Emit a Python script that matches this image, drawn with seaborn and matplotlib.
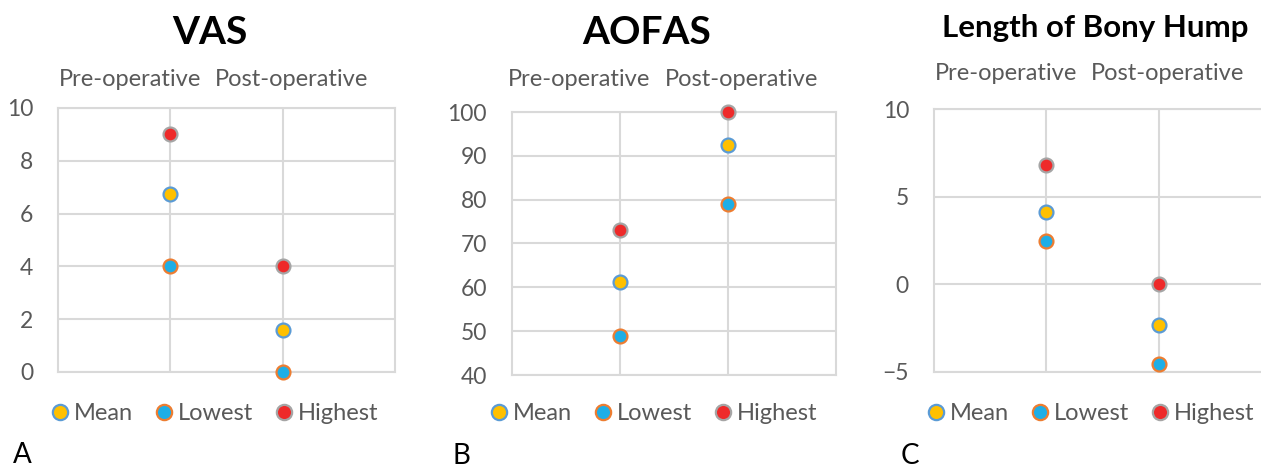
import matplotlib
matplotlib.use("Agg")
import matplotlib.pyplot as plt
import seaborn as sns
import pandas as pd
from matplotlib.lines import Line2D

sns.set_theme(style="white")
plt.rcParams["font.family"] = ["Lato", "DejaVu Sans"]

# Data
stages = ["Pre-operative", "Post-operative"]
series = ["Mean", "Lowest", "Highest"]

vas_mean = [6.75, 1.6]
vas_lowest = [4, 0]
vas_highest = [9, 4]

aofas_mean = [61.2, 92.4]
aofas_lowest = [49, 79]
aofas_highest = [73, 100]

hump_mean = [4.1, -2.3]
hump_lowest = [2.5, -4.55]
hump_highest = [6.8, 0]

titles = ["VAS", "AOFAS", "Length of Bony Hump"]
letters = ["A", "B", "C"]

fill = {"Mean": "#FFC000", "Lowest": "#1EAEE6", "Highest": "#EE2A2A"}
edge = {"Mean": "#5B9BD5", "Lowest": "#ED7D31", "Highest": "#A5A5A5"}
grid_c = "#D9D9D9"
text_c = "#595959"

W, H = 1261, 472
fig = plt.figure(figsize=(W / 100, H / 100), dpi=100)


def make_df(mean, low, high):
    rows = []
    for name, vals in zip(series, [mean, low, high]):
        for i, v in enumerate(vals):
            rows.append({"pos": i + 1, "stage": stages[i], "series": name, "value": v})
    return pd.DataFrame(rows)


panels = [
    dict(df=make_df(vas_mean, vas_lowest, vas_highest), ylim=(0, 10), step=2,
         box=(58, 395, 108, 372), title_xy=(210, 33), title_fs=28,
         cat_x=(130, 292), cat_y=80, leg_x=213, letter_xy=(22, 455)),
    dict(df=make_df(aofas_mean, aofas_lowest, aofas_highest), ylim=(40, 100), step=10,
         box=(512, 836, 112, 375), title_xy=(647, 33), title_fs=28,
         cat_x=(579, 742), cat_y=80, leg_x=652, letter_xy=(461, 456)),
    dict(df=make_df(hump_mean, hump_lowest, hump_highest), ylim=(-5, 10), step=5,
         box=(934, 1271, 109, 372), title_xy=(1095, 28), title_fs=22.5,
         cat_x=(1006, 1168), cat_y=73, leg_x=1089, letter_xy=(910, 456)),
]

for p, title, letter in zip(panels, titles, letters):
    l, r, t, b = p["box"]
    ax = fig.add_axes([l / W, 1 - b / H, (r - l) / W, (b - t) / H])
    df = p["df"]
    for name in series:
        sub = df[df["series"] == name]
        sns.scatterplot(data=sub, x="pos", y="value", ax=ax, s=100,
                        color=fill[name], edgecolor=edge[name], linewidth=1.6,
                        zorder=3, clip_on=False, legend=False)
    lo, hi = p["ylim"]
    ax.set_xlim(0, 3)
    ax.set_ylim(lo, hi)
    ax.set_yticks(range(lo, hi + 1, p["step"]))
    ax.set_xticks([1, 2])
    ax.set_xticklabels([])
    ax.grid(True, color=grid_c, linewidth=1.5)
    for s in ax.spines.values():
        s.set_color(grid_c)
        s.set_linewidth(1.5)
    ax.tick_params(axis="y", length=0, pad=18, labelsize=16.5, labelcolor=text_c)
    ax.tick_params(axis="x", length=0)
    ax.set_xlabel("")
    ax.set_ylabel("")

    fig.text(p["title_xy"][0] / W, 1 - p["title_xy"][1] / H, title,
             ha="center", va="center", fontsize=p["title_fs"], fontweight="bold", color="black")
    for cx, st in zip(p["cat_x"], stages):
        fig.text(cx / W, 1 - p["cat_y"] / H, st, ha="center", va="center",
                 fontsize=17, color=text_c)
    fig.text(p["letter_xy"][0] / W, 1 - p["letter_xy"][1] / H, letter,
             ha="center", va="center", fontsize=20, color="black")

    handles = [Line2D([0], [0], marker="o", linestyle="", markersize=11,
                      markerfacecolor=fill[n], markeredgecolor=edge[n],
                      markeredgewidth=1.6) for n in series]
    leg = fig.legend(handles, series, loc="center", bbox_to_anchor=(p["leg_x"] / W, 1 - 414 / H),
                     ncol=3, frameon=False, fontsize=17, handletextpad=0.1,
                     columnspacing=0.8, handlelength=1.0)
    for txt in leg.get_texts():
        txt.set_color(text_c)

fig.savefig("out.png", dpi=100)
